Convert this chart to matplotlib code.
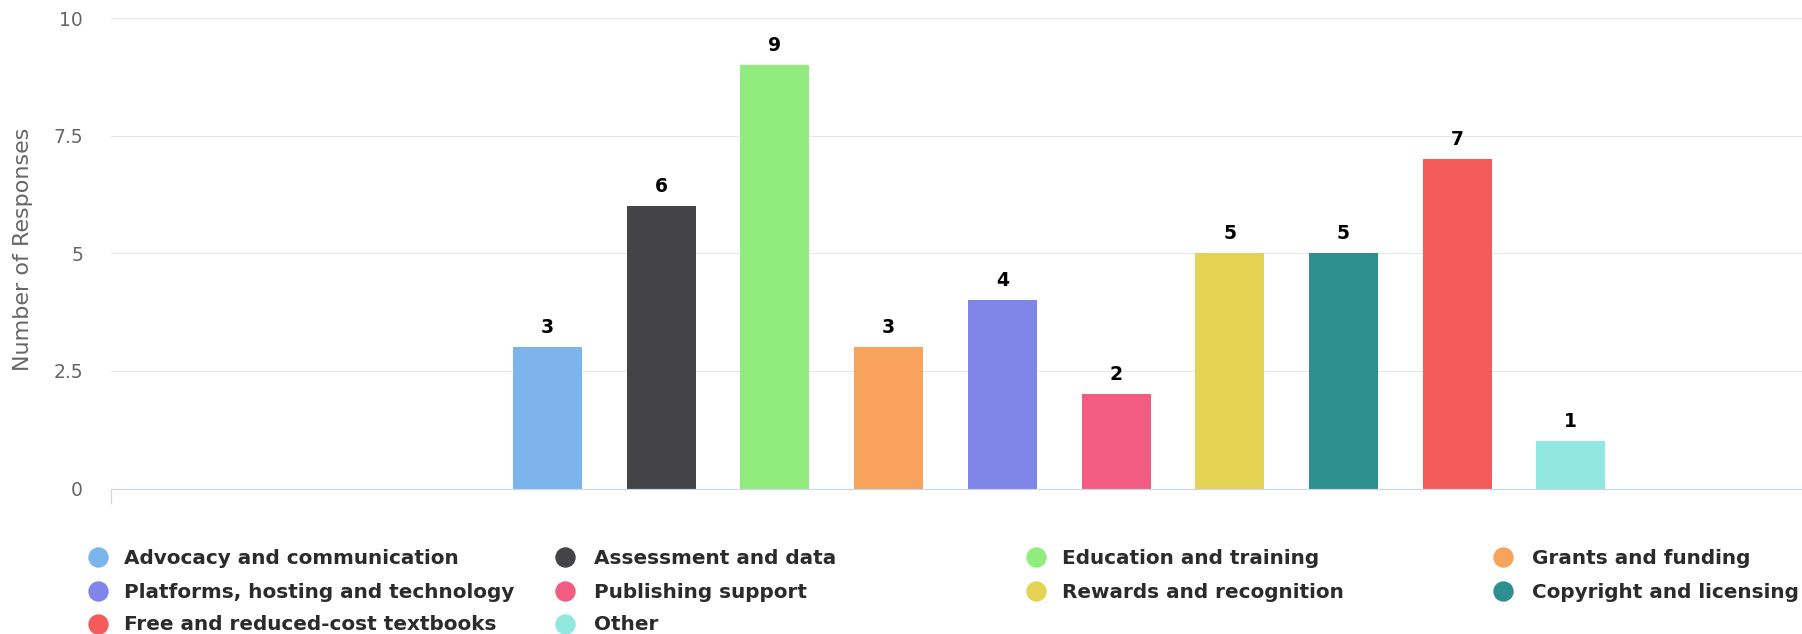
import matplotlib
matplotlib.use("Agg")
import matplotlib.pyplot as plt
from matplotlib.lines import Line2D
import numpy as np

# ---------------- data ----------------
categories = [
    "Advocacy and communication",
    "Assessment and data",
    "Education and training",
    "Grants and funding",
    "Platforms, hosting and technology",
    "Publishing support",
    "Rewards and recognition",
    "Copyright and licensing",
    "Free and reduced-cost textbooks",
    "Other",
]
values = [3, 6, 9, 3, 4, 2, 5, 5, 7, 1]
colors = ["#7cb5ec", "#434348", "#90ed7d", "#f7a35c", "#8085e9",
          "#f15c80", "#e4d354", "#2b908f", "#f45b5b", "#91e8e1"]
y_ticks = [0, 2.5, 5, 7.5, 10]
y_tick_labels = ["0", "2.5", "5", "7.5", "10"]
y_title = "Number of Responses"

# ---------------- figure ----------------
W, H, DPI = 1802, 634, 100
PX = 72.0 / DPI  # points per pixel
plt.rcParams["font.family"] = ["DejaVu Sans"]
fig = plt.figure(figsize=(W / DPI, H / DPI), dpi=DPI)
fig.patch.set_facecolor("white")

left_px, right_px, top_px, bottom_px = 111, 1802, 18, 488.5
ax = fig.add_axes([left_px / W, 1 - bottom_px / H,
                   (right_px - left_px) / W, (bottom_px - top_px) / H])

spacing = 113.7
c0 = 547.5
x = np.arange(len(values))
ax.set_xlim((left_px - c0) / spacing, (right_px - c0) / spacing)
bars = ax.bar(x, values, width=69 / spacing, color=colors, zorder=2, linewidth=0)
ax.set_ylim(0, 10)
ax.set_yticks(y_ticks, y_tick_labels)
ax.yaxis.grid(True, color="#e6e6e6", linewidth=1 * PX, zorder=0)
ax.set_axisbelow(True)
for s in ["top", "right", "left"]:
    ax.spines[s].set_visible(False)
ax.spines["bottom"].set_color("#ccd6eb")
ax.spines["bottom"].set_linewidth(1.2 * PX)
ax.spines["bottom"].set_zorder(3)
ax.set_xticks([ax.get_xlim()[0]])
ax.set_xticklabels([""])
ax.tick_params(axis="x", length=15 * PX, width=1.2 * PX, color="#ccd6eb",
               labelbottom=False)
ax.tick_params(axis="y", length=0, pad=28 * PX, labelsize=13.5,
               labelcolor="#666666")

ax.set_ylabel(y_title, fontsize=16, color="#666666")
ax.yaxis.set_label_coords((23 - left_px) / (right_px - left_px),
                          (bottom_px - 249.5) / (bottom_px - top_px))
ax.yaxis.label.set_verticalalignment("center")

ax.bar_label(bars, labels=[str(v) for v in values], padding=10 * PX,
             fontsize=13.5, fontweight="bold", color="black")

# ---------------- legend (row-major, fixed columns) ----------------
row_y = [557, 591, 624]
marker_x = [98, 565, 1036, 1503]
text_x = [124, 594, 1062, 1532]

# fit legend font size so that the first label is ~336 px wide
renderer = fig.canvas.get_renderer()
probe = fig.text(0, 0, categories[0], fontsize=14, fontweight="bold")
wpx = probe.get_window_extent(renderer).width
probe.remove()
leg_fs = 14 * 336.0 / wpx

for i, (lab, col) in enumerate(zip(categories, colors)):
    r, c = divmod(i, 4)
    yc = row_y[r]
    fig.add_artist(Line2D([marker_x[c] / W], [1 - yc / H], marker="o",
                          markersize=19 * PX, color=col, linestyle="",
                          transform=fig.transFigure))
    fig.text(text_x[c] / W, 1 - (yc + 6.5) / H, lab, fontsize=leg_fs,
             fontweight="bold", color="#2b2b2b", ha="left", va="baseline")

fig.savefig("out.png", dpi=DPI, facecolor="white")
